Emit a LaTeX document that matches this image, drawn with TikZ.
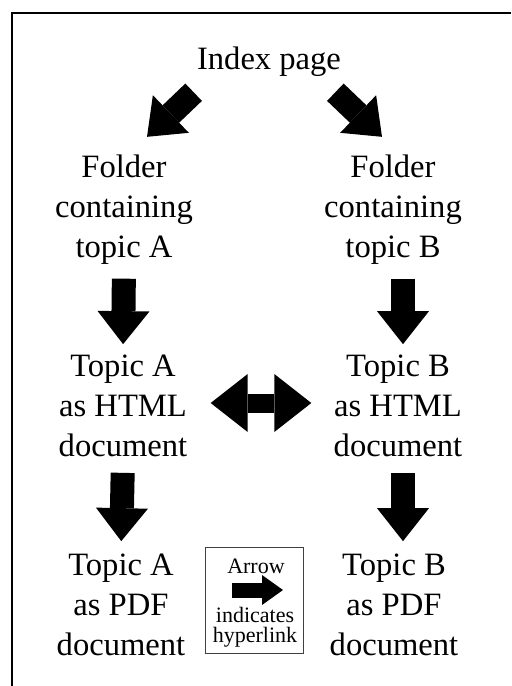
\documentclass[tikz,border=0pt]{standalone}
\usepackage{fontspec}
\setmainfont{Liberation Serif}
\usepackage{tikz}
\usetikzlibrary{positioning,arrows.meta}

\begin{document}
\begin{tikzpicture}[
  x=0.5pt, y=-0.5pt,
  page/.style={align=center, inner sep=0pt, font=\fontsize{16.3}{20}\selectfont},
  keytext/.style={align=center, inner sep=0pt, font=\fontsize{11}{10}\selectfont},
  key/.style={draw=black!75, line width=0.5pt, inner sep=0pt, minimum width=49pt, minimum height=53pt},
  arrow/.style={line width=12pt, -{Triangle[width=26pt, length=16.5pt, line width=0pt]}},
  dblarrow/.style={line width=9.5pt, {Triangle[width=29pt, length=18.5pt, line width=0pt]}-{Triangle[width=29pt, length=18.5pt, line width=0pt]}},
  keyarrow/.style={line width=7.5pt, -{Triangle[width=15pt, length=10.5pt, line width=0pt]}}
]
  \useasboundingbox (0,0) rectangle (511,686);
  \draw[line width=1pt] (12,686) |- (511,13);

  \node[page] (index) at (269,62) {Index page};
  \node[page] (folderA) at (124,210) {Folder\\containing\\topic A};
  \node[page] (folderB) at (393,210) {Folder\\containing\\topic B};
  \node[page] (htmlA) at (123,406) {Topic A\\as HTML\\document};
  \node[page] (htmlB) at (398,406) {Topic B\\as HTML\\document};
  \node[page] (pdfA) at (121,605) {Topic A\\as PDF\\document};
  \node[page] (pdfB) at (394,605) {Topic B\\as PDF\\document};

  % key box
  \node[key] (keybox) at (254,600) {};
  \node[keytext] (keytop) at (256,566) {Arrow};
  \node[keytext] (keybot) at (255,627) {indicates\\hyperlink};
  \coordinate (keyL) at (232,590);
  \coordinate (keyR) at (283,590);

  \draw[arrow] ([shift={(-3,15)}]index.south west) -- ([shift={(23,-18)}]folderA.north);
  \draw[arrow] ([shift={(-6,15)}]index.south east) -- ([shift={(-11,-18)}]folderB.north);
  \draw[arrow, shorten <=6.75pt, shorten >=5.25pt] (folderA.south) -- (htmlA.north);
  \draw[arrow, shorten <=6.75pt, shorten >=5.25pt] ([xshift=5pt]folderB.south) -- ([xshift=2.5pt]htmlB.north);
  \draw[dblarrow, shorten <=11.5pt, shorten >=11pt] ([yshift=1.5pt]htmlA.east) -- ([yshift=1.5pt]htmlB.west);
  \draw[arrow, shorten <=7.75pt, shorten >=6.25pt] (htmlA.south) -- (pdfA.north);
  \draw[arrow, shorten <=7.75pt, shorten >=6.25pt] ([xshift=2.5pt]htmlB.south) -- ([xshift=4.5pt]pdfB.north);
  \draw[keyarrow] (keyL) -- (keyR);
\end{tikzpicture}
\end{document}
